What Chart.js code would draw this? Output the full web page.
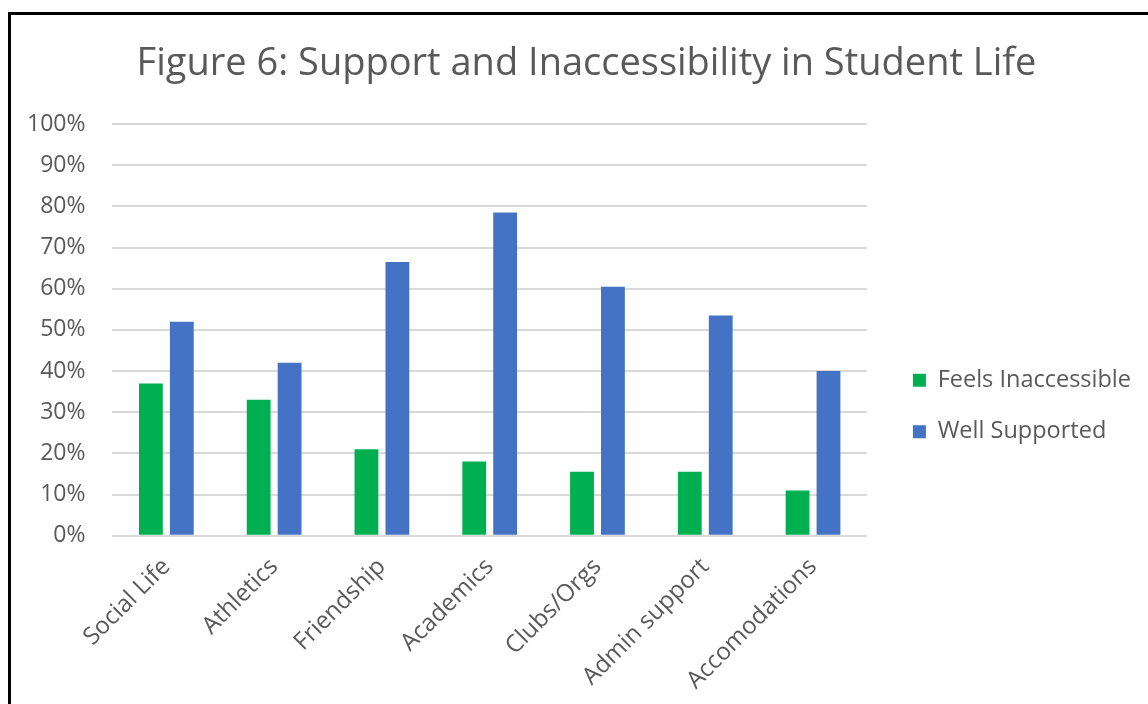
<!DOCTYPE html>
<html>
<head>
<meta charset="utf-8">
<script src="https://cdn.jsdelivr.net/npm/chart.js@4.4.0/dist/chart.umd.min.js"></script>
<style>
	html, body { margin: 0; padding: 0; background: #fff; }
	#wrap { position: relative; width: 1148px; height: 704px; overflow: hidden; }
	#frame {
		position: absolute; left: 8px; top: 12px; width: 1200px; height: 760px;
		border-left: 3px solid #000; border-top: 3px solid #000; pointer-events: none;
	}
	canvas { position: absolute; left: 0; top: 0; }
</style>
</head>
<body>
<div id="wrap">
	<canvas id="chart" width="1148" height="704"></canvas>
	<div id="frame"></div>
</div>
<script>
// donnees
const categories = ["Social Life", "Athletics", "Friendship", "Academics", "Clubs/Orgs", "Admin support", "Accomodations"];
const feelsInaccessible = [37, 33, 21, 18, 15.5, 15.5, 11];
const wellSupported = [52, 42, 66.5, 78.5, 60.5, 53.5, 40];
const yTicks = [0, 10, 20, 30, 40, 50, 60, 70, 80, 90, 100];

const textColor = "#595959";
const fontFamily = "'Open Sans', sans-serif";

// decale la legende (plus d'ecart avec le graphe, et plus bas) et le titre
const layoutShift = {
	id: "layoutShift",
	afterLayout(chart) {
		const lg = chart.legend;
		lg.left += 18;
		lg.right += 18;
		lg.top += 44;
		lg.bottom += 44;
		const tb = chart.titleBlock;
		tb.left += 25;
		tb.right += 25;
	},
};

const ctx = document.getElementById("chart").getContext("2d");

new Chart(ctx, {
	type: "bar",
	data: {
		labels: categories,
		datasets: [
			{
				label: "Feels Inaccessible",
				data: feelsInaccessible,
				backgroundColor: "#00b050",
				categoryPercentage: 0.574,
				barPercentage: 0.77,
			},
			{
				label: "Well Supported",
				data: wellSupported,
				backgroundColor: "#4472c4",
				categoryPercentage: 0.574,
				barPercentage: 0.77,
			},
		],
	},
	options: {
		responsive: false,
		animation: false,
		layout: {
			padding: { top: 20, left: 0, right: 25, bottom: 0 },
		},
		plugins: {
			title: {
				display: true,
				text: "Figure 6: Support and Inaccessibility in Student Life",
				color: textColor,
				font: { family: fontFamily, size: 38, weight: "normal" },
				padding: { top: 21, bottom: 37.5 },
			},
			legend: {
				position: "right",
				labels: {
					color: textColor,
					font: { family: fontFamily, size: 23.5 },
					boxWidth: 13,
					boxHeight: 13,
					padding: 28,
				},
			},
			tooltip: { enabled: false },
		},
		scales: {
			y: {
				min: 0,
				max: 100,
				afterBuildTicks: (axis) => {
					axis.ticks = yTicks.map((v) => ({ value: v }));
				},
				ticks: {
					color: textColor,
					font: { family: fontFamily, size: 23 },
					padding: 27,
					callback: (v) => v + "%",
				},
				grid: { color: "#d9d9d9", lineWidth: 2, drawTicks: false },
				border: { display: false },
			},
			x: {
				ticks: {
					color: textColor,
					font: { family: fontFamily, size: 24 },
					minRotation: 45,
					maxRotation: 45,
					padding: 9,
				},
				grid: { display: false },
				border: { display: false },
			},
		},
	},
	plugins: [layoutShift],
});
</script>
</body>
</html>
